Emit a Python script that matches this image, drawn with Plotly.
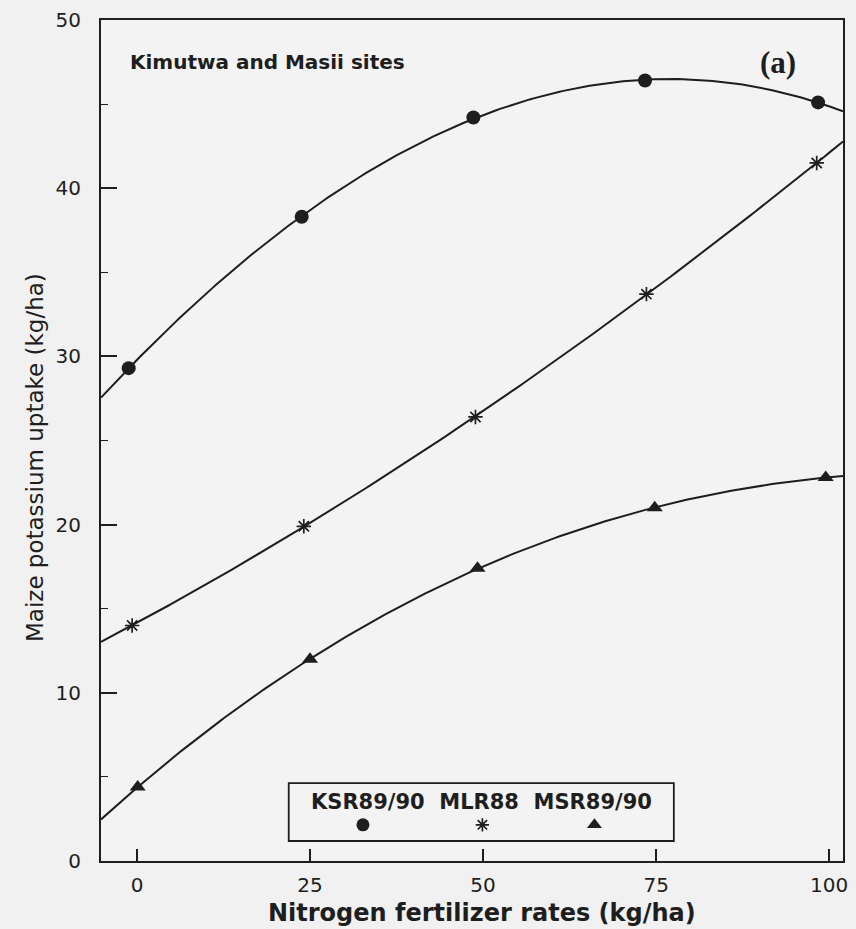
import numpy as np
import plotly.graph_objects as go

# Data
series_names = ["KSR89/90", "MLR88", "MSR89/90"]
ksr_x = [-1.2, 23.8, 48.6, 73.4, 98.4]
ksr_y = [29.3, 38.3, 44.2, 46.4, 45.1]
mlr_x = [-0.7, 24.1, 48.9, 73.6, 98.2]
mlr_y = [14.0, 19.9, 26.4, 33.7, 41.5]
msr_x = [0.1, 25.0, 49.2, 74.8, 99.5]
msr_y = [4.4, 12.0, 17.4, 21.0, 22.8]
x_ticks = [0, 25, 50, 75, 100]
y_ticks = [0, 10, 20, 30, 40, 50]

X_RANGE = [-5.2, 102.0]
Y_RANGE = [0, 50]
INK = "#1e1e1e"
FONT = "DejaVu Sans, Liberation Sans, sans-serif"

fig = go.Figure()
xs = np.linspace(X_RANGE[0], X_RANGE[1], 200)
markers = [
    dict(symbol="circle", size=14, color=INK),
    dict(symbol="asterisk-open", size=12, color=INK, line=dict(width=1.7, color=INK)),
    dict(symbol="triangle-up", size=14, color=INK),
]
for name, x, y, mk in zip(series_names, [ksr_x, mlr_x, msr_x], [ksr_y, mlr_y, msr_y], markers):
    coef = np.polyfit(x, y, 3)
    fig.add_trace(go.Scatter(x=xs, y=np.polyval(coef, xs), mode="lines",
                             line=dict(color=INK, width=2), showlegend=False,
                             hoverinfo="skip"))
    fig.add_trace(go.Scatter(x=x, y=y, mode="markers", marker=mk, name=name,
                             showlegend=False))

# Legend key symbols, drawn on a hidden overlay axis spanning the plot area (0..1)
legend_sym_x = [0.353, 0.514, 0.665]
legend_sym_y = 0.043
for xp, mk in zip(legend_sym_x, markers):
    m = dict(mk)
    m["size"] = mk["size"] - 1
    fig.add_trace(go.Scatter(x=[xp], y=[legend_sym_y], mode="markers", marker=m,
                             xaxis="x2", yaxis="y2", showlegend=False,
                             hoverinfo="skip", cliponaxis=False))

fig.update_xaxes(range=X_RANGE, tickvals=x_ticks, ticks="inside", ticklen=12,
                 tickwidth=1.6, tickcolor=INK, showline=True, linecolor=INK,
                 linewidth=2, mirror=True, showgrid=False, zeroline=False,
                 ticklabelstandoff=5,
                 tickfont=dict(family=FONT, size=20, color=INK))
fig.update_yaxes(range=Y_RANGE, tickvals=y_ticks, ticks="inside", ticklen=16,
                 tickwidth=1.6, tickcolor=INK, showline=True, linecolor=INK,
                 linewidth=2, mirror=True, showgrid=False, zeroline=False,
                 ticklabelstandoff=14,
                 minor=dict(dtick=5, ticks="inside", ticklen=7, tickwidth=1.3,
                            tickcolor=INK, showgrid=False),
                 tickfont=dict(family=FONT, size=20, color=INK))

# Axis titles
fig.add_annotation(x=0.513, y=-0.062, xref="paper", yref="paper", showarrow=False,
                   xanchor="center", yanchor="middle",
                   text="<b>Nitrogen fertilizer rates (kg/ha)</b>",
                   font=dict(family=FONT, size=24, color=INK))
fig.add_annotation(x=-0.088, y=0.480, xref="paper", yref="paper", showarrow=False,
                   xanchor="center", yanchor="middle", textangle=-90,
                   text="Maize potassium uptake (kg/ha)",
                   font=dict(family=FONT, size=23, color=INK))

# Title and panel label
fig.add_annotation(x=0.036, y=0.950, xref="paper", yref="paper", xanchor="left",
                   yanchor="middle", showarrow=False,
                   text="<b>Kimutwa and Masii sites</b>",
                   font=dict(family=FONT, size=20, color=INK))
fig.add_annotation(x=0.940, y=0.950, xref="paper", yref="paper", xanchor="right",
                   yanchor="middle", showarrow=False, text="<b>(a)</b>",
                   font=dict(family="Liberation Serif, serif", size=31, color=INK))

# Custom legend: names above symbols, in a box
fig.add_shape(type="rect", xref="paper", yref="paper", x0=0.253, x1=0.772,
              y0=0.0238, y1=0.0927, line=dict(color=INK, width=1.8),
              fillcolor="rgba(0,0,0,0)")
fig.add_annotation(x=0.5125, y=0.070, xref="paper", yref="paper", showarrow=False,
                   xanchor="center", yanchor="middle",
                   text="<b>" + "  ".join(series_names) + "</b>",
                   font=dict(family=FONT, size=21, color=INK))

fig.update_layout(width=856, height=929, margin=dict(l=101, r=8, t=20, b=68),
                  paper_bgcolor="#f1f1f1", plot_bgcolor="#f3f3f3",
                  font=dict(family=FONT, color=INK),
                  xaxis2=dict(overlaying="x", range=[0, 1], visible=False,
                              fixedrange=True),
                  yaxis2=dict(overlaying="y", range=[0, 1], visible=False,
                              fixedrange=True))
fig.write_html("out.html")
